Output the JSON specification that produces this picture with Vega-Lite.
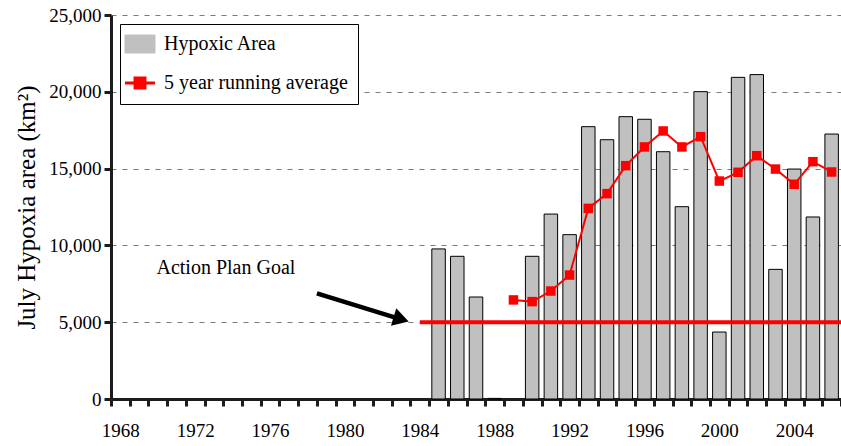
{
  "$schema": "https://vega.github.io/schema/vega-lite/v6.json",
  "width": 730,
  "height": 384,
  "autosize": {"type": "none"},
  "padding": {"left": 111, "top": 15, "right": 0, "bottom": 47},
  "config": {
    "font": "Liberation Serif",
    "view": {"stroke": null},
    "axis": {
      "domainColor": "#1c1c1c", "domainWidth": 3, "tickColor": "#1c1c1c", "tickWidth": 3, "tickSize": 7,
      "labelColor": "black", "labelFontSize": 19, "titleColor": "black", "titleFontWeight": "normal"
    },
    "axisX": {"labelPadding": 15, "labelAngle": 0, "grid": false},
    "axisY": {"labelPadding": 3, "titleFontSize": 25, "titlePadding": 9, "grid": true, "gridDash": [5, 6], "gridColor": "#7a7a7a", "gridWidth": 1.2}
  },
  "datasets": {
    "hypoxia": [
      {"year": 1985, "area": 9770}, {"year": 1986, "area": 9290}, {"year": 1987, "area": 6640},
      {"year": 1988, "area": 40}, {"year": 1990, "area": 9290}, {"year": 1991, "area": 12040},
      {"year": 1992, "area": 10700}, {"year": 1993, "area": 17730}, {"year": 1994, "area": 16880},
      {"year": 1995, "area": 18380}, {"year": 1996, "area": 18210}, {"year": 1997, "area": 16100},
      {"year": 1998, "area": 12520}, {"year": 1999, "area": 20010}, {"year": 2000, "area": 4360},
      {"year": 2001, "area": 20940}, {"year": 2002, "area": 21120}, {"year": 2003, "area": 8440},
      {"year": 2004, "area": 14970}, {"year": 2005, "area": 11850}, {"year": 2006, "area": 17250}
    ],
    "avg": [
      {"year": 1989, "avg": 6450}, {"year": 1990, "avg": 6340}, {"year": 1991, "avg": 7030},
      {"year": 1992, "avg": 8070}, {"year": 1993, "avg": 12410}, {"year": 1994, "avg": 13370},
      {"year": 1995, "avg": 15190}, {"year": 1996, "avg": 16410}, {"year": 1997, "avg": 17450},
      {"year": 1998, "avg": 16410}, {"year": 1999, "avg": 17080}, {"year": 2000, "avg": 14190},
      {"year": 2001, "avg": 14760}, {"year": 2002, "avg": 15840}, {"year": 2003, "avg": 14970},
      {"year": 2004, "avg": 13980}, {"year": 2005, "avg": 15450}, {"year": 2006, "avg": 14780}
    ],
    "goal": [{"year": 1984, "goal": 5000}],
    "arrow": [{"from": 1979, "to": 1983, "y1": 6880, "y2": 5190}],
    "note": [{"year": 1974, "y": 8530, "label": "Action Plan Goal"}]
  },
  "encoding": {
    "x": {
      "field": "year", "type": "ordinal",
      "scale": {"domain": [1968,1969,1970,1971,1972,1973,1974,1975,1976,1977,1978,1979,1980,1981,1982,1983,1984,1985,1986,1987,1988,1989,1990,1991,1992,1993,1994,1995,1996,1997,1998,1999,2000,2001,2002,2003,2004,2005,2006], "paddingInner": 0, "paddingOuter": 0},
      "axis": {
        "title": null, "tickBand": "extent",
        "labelExpr": "(datum.value - 1968) % 4 == 0 ? datum.label : ''"
      }
    }
  },
  "layer": [
    {
      "data": {"name": "hypoxia"},
      "mark": {"type": "bar", "width": {"band": 0.72}, "stroke": "black", "strokeWidth": 1},
      "encoding": {
        "y": {
          "field": "area", "type": "quantitative", "title": "July Hypoxia area (km²)",
          "scale": {"domain": [0, 25000], "nice": false},
          "axis": {"values": [0, 5000, 10000, 15000, 20000, 25000], "format": ",d"}
        },
        "color": {
          "datum": "Hypoxic Area", "type": "nominal",
          "scale": {"domain": ["Hypoxic Area", "5 year running average"], "range": ["#c0c0c0", "#ff0000"]},
          "legend": {
            "title": null, "orient": "top-left", "offset": 9, "padding": 10,
            "strokeColor": "black", "fillColor": "white",
            "labelFontSize": 20, "labelFont": "Liberation Serif", "labelColor": "black",
            "labelOffset": 14, "rowPadding": 17, "symbolSize": 900, "labelLimit": 400,
            "symbolType": {"expr": "datum.value === 'Hypoxic Area' ? 'M-1,-0.6H1V0.6H-1Z' : 'M-1,0H1M-0.33,-0.33H0.33V0.33H-0.33Z'"},
            "symbolStrokeWidth": {"expr": "datum.value === 'Hypoxic Area' ? 1 : 3"}
          }
        }
      }
    },
    {
      "data": {"name": "avg"},
      "mark": {"type": "line", "strokeWidth": 2, "point": {"shape": "square", "size": 90, "filled": true, "opacity": 1}},
      "encoding": {
        "y": {"field": "avg", "type": "quantitative", "title": "July Hypoxia area (km²)"},
        "color": {"datum": "5 year running average", "type": "nominal"}
      }
    },
    {
      "data": {"name": "goal"},
      "mark": {"type": "rule", "color": "#ff0000", "strokeWidth": 4},
      "encoding": {
        "x2": {"value": "width"},
        "y": {"field": "goal", "type": "quantitative", "title": "July Hypoxia area (km²)"}
      }
    },
    {
      "data": {"name": "arrow"},
      "mark": {"type": "rule", "color": "black", "strokeWidth": 4.5},
      "encoding": {
        "x": {"field": "from", "type": "ordinal", "bandPosition": 0},
        "x2": {"field": "to"},
        "y": {"field": "y1", "type": "quantitative", "title": "July Hypoxia area (km²)"},
        "y2": {"field": "y2"}
      }
    },
    {
      "data": {"name": "arrow"},
      "mark": {"type": "point", "shape": "triangle-right", "filled": true, "color": "black", "size": 330, "angle": 17, "opacity": 1},
      "encoding": {
        "x": {"field": "to", "type": "ordinal"},
        "y": {"field": "y2", "type": "quantitative", "title": "July Hypoxia area (km²)"}
      }
    },
    {
      "data": {"name": "note"},
      "mark": {"type": "text", "align": "center", "baseline": "middle", "fontSize": 20, "font": "Liberation Serif", "color": "black"},
      "encoding": {
        "x": {"field": "year", "type": "ordinal", "bandPosition": 0.14},
        "y": {"field": "y", "type": "quantitative", "title": "July Hypoxia area (km²)"},
        "text": {"field": "label"}
      }
    }
  ]
}
